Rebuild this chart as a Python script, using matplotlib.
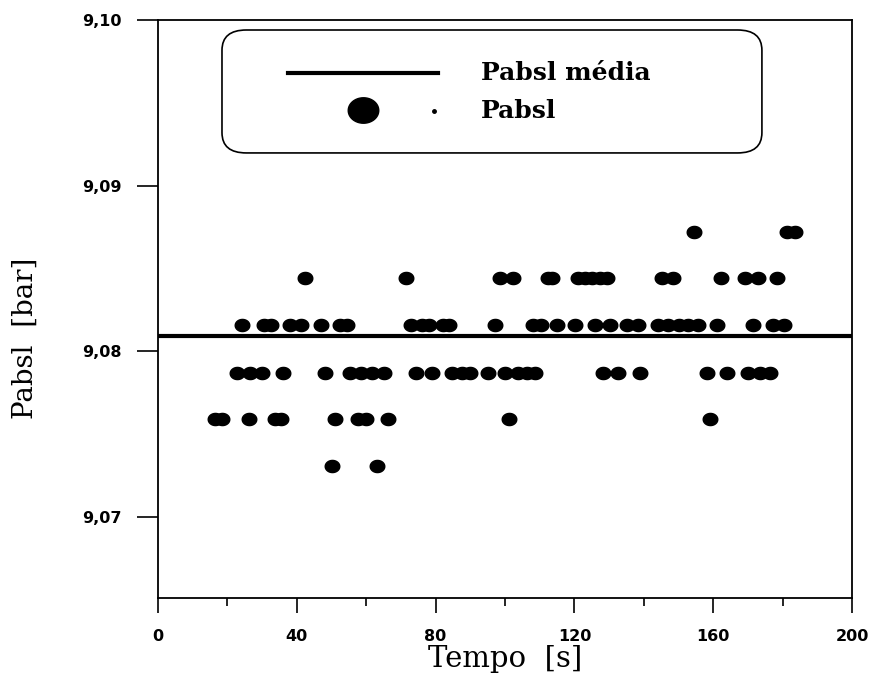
import matplotlib
matplotlib.use("Agg")

import matplotlib.pyplot as plt
import numpy as np
from matplotlib.patches import FancyBboxPatch
from matplotlib.path import Path
from matplotlib.ticker import FuncFormatter, MultipleLocator

# pressure levels (bar) and the times (s) at which each level was read
levels = [9.0731, 9.0759, 9.0787, 9.0816, 9.0844, 9.0872]

t_9073 = [50, 63]
t_9076 = [16.4, 18.4, 26.2, 33.7, 35.4, 51, 57.5, 60, 66.3, 101.2, 159]
t_9079 = [22.8, 26.5, 30, 36, 48.1, 55.3, 58.5, 61.7, 65.1, 74.4, 79,
          84.7, 87.6, 90, 95.2, 100, 103.7, 106.3, 108.6, 128.2, 132.6,
          139, 158.2, 164, 170, 173.5, 176.4]
t_9082 = [24.2, 30.5, 32.5, 38, 41.2, 47, 52.5, 54.5, 73, 76, 78, 82, 84,
          97.1, 108, 110.5, 115, 120.2, 126, 130.3, 135.2, 138.3, 144, 147,
          150, 152.7, 155.6, 161, 171.5, 177.2, 180.4]
t_9084 = [42.5, 71.5, 98.6, 102.3, 112.3, 113.5, 121, 123, 125, 127.3,
          129.5, 145.2, 148.4, 162.2, 169.2, 172.9, 178.4]
t_9087 = [154.5, 181.3, 183.5]

pabsl_media = 9.0809

x_ticks = [0, 40, 80, 120, 160, 200]
y_ticks = [9.07, 9.08, 9.09, 9.10]

times_by_level = [t_9073, t_9076, t_9079, t_9082, t_9084, t_9087]
tempo = np.concatenate([np.array(t, dtype=float) for t in times_by_level])
pabsl = np.concatenate([np.full(len(t), lv) for t, lv in zip(times_by_level, levels)])

# slightly flattened round marker, like the scanned dots
theta = np.linspace(0, 2 * np.pi, 64)
ellipse = Path(np.column_stack([1.2 * np.cos(theta), np.sin(theta)]), closed=True)

fig = plt.figure(figsize=(8.72, 6.76), dpi=100)
ax = fig.add_axes([158 / 872, 1 - 598 / 676, 694 / 872, 578 / 676])

ax.axhline(pabsl_media, color="black", linewidth=3.0, zorder=3)
ax.plot(tempo, pabsl, linestyle="none", marker=ellipse, markersize=10.5,
        color="black", zorder=4)

ax.set_xlim(0, 200)
ax.set_ylim(9.0651, 9.10)
ax.set_xticks(x_ticks)
ax.xaxis.set_minor_locator(MultipleLocator(20))
ax.set_yticks(y_ticks)

comma = FuncFormatter(lambda v, pos: f"{v:.2f}".replace(".", ","))
ax.yaxis.set_major_formatter(comma)
ax.xaxis.set_major_formatter(FuncFormatter(lambda v, pos: f"{v:.0f}"))

for sp in ax.spines.values():
    sp.set_linewidth(1.3)

ax.tick_params(axis="x", which="major", direction="out", length=11, width=1.2,
               pad=11, labelsize=11.5)
ax.tick_params(axis="x", which="minor", direction="out", length=6, width=1.2)
ax.tick_params(axis="y", which="major", direction="out", length=15, width=1.2,
               pad=11, labelsize=11.5)
for lab in ax.get_xticklabels() + ax.get_yticklabels():
    lab.set_fontweight("bold")

ax.set_xlabel("Tempo  [s]", family="DejaVu Serif", fontsize=21)
ax.xaxis.set_label_coords(0.5, -0.082)
ax.set_ylabel("Pabsl  [bar]", family="DejaVu Serif", fontsize=20)
ax.yaxis.set_label_coords(-0.172, 0.45)

# legend box drawn by hand (rounded frame, line, big dot + small dot)
box = FancyBboxPatch((0.0922, 0.770), 0.778, 0.2127, transform=ax.transAxes,
                     boxstyle="round,pad=0,rounding_size=0.035",
                     facecolor="white", edgecolor="black", linewidth=1.2,
                     zorder=5)
ax.add_patch(box)
ax.plot([0.187, 0.403], [0.908, 0.908], transform=ax.transAxes,
        color="black", linewidth=3.0, zorder=6)
ax.plot([0.295], [0.845], transform=ax.transAxes, linestyle="none",
        marker=ellipse, markersize=22, color="black", zorder=6)
ax.plot([0.397], [0.843], transform=ax.transAxes, linestyle="none",
        marker="o", markersize=2.5, color="black", zorder=6)
ax.text(0.4647, 0.908, "Pabsl média", transform=ax.transAxes,
        family="DejaVu Serif", fontweight="bold", fontsize=18,
        va="center", ha="left", zorder=6)
ax.text(0.4647, 0.843, "Pabsl", transform=ax.transAxes,
        family="DejaVu Serif", fontweight="bold", fontsize=18,
        va="center", ha="left", zorder=6)

fig.savefig("out.png", dpi=100)
